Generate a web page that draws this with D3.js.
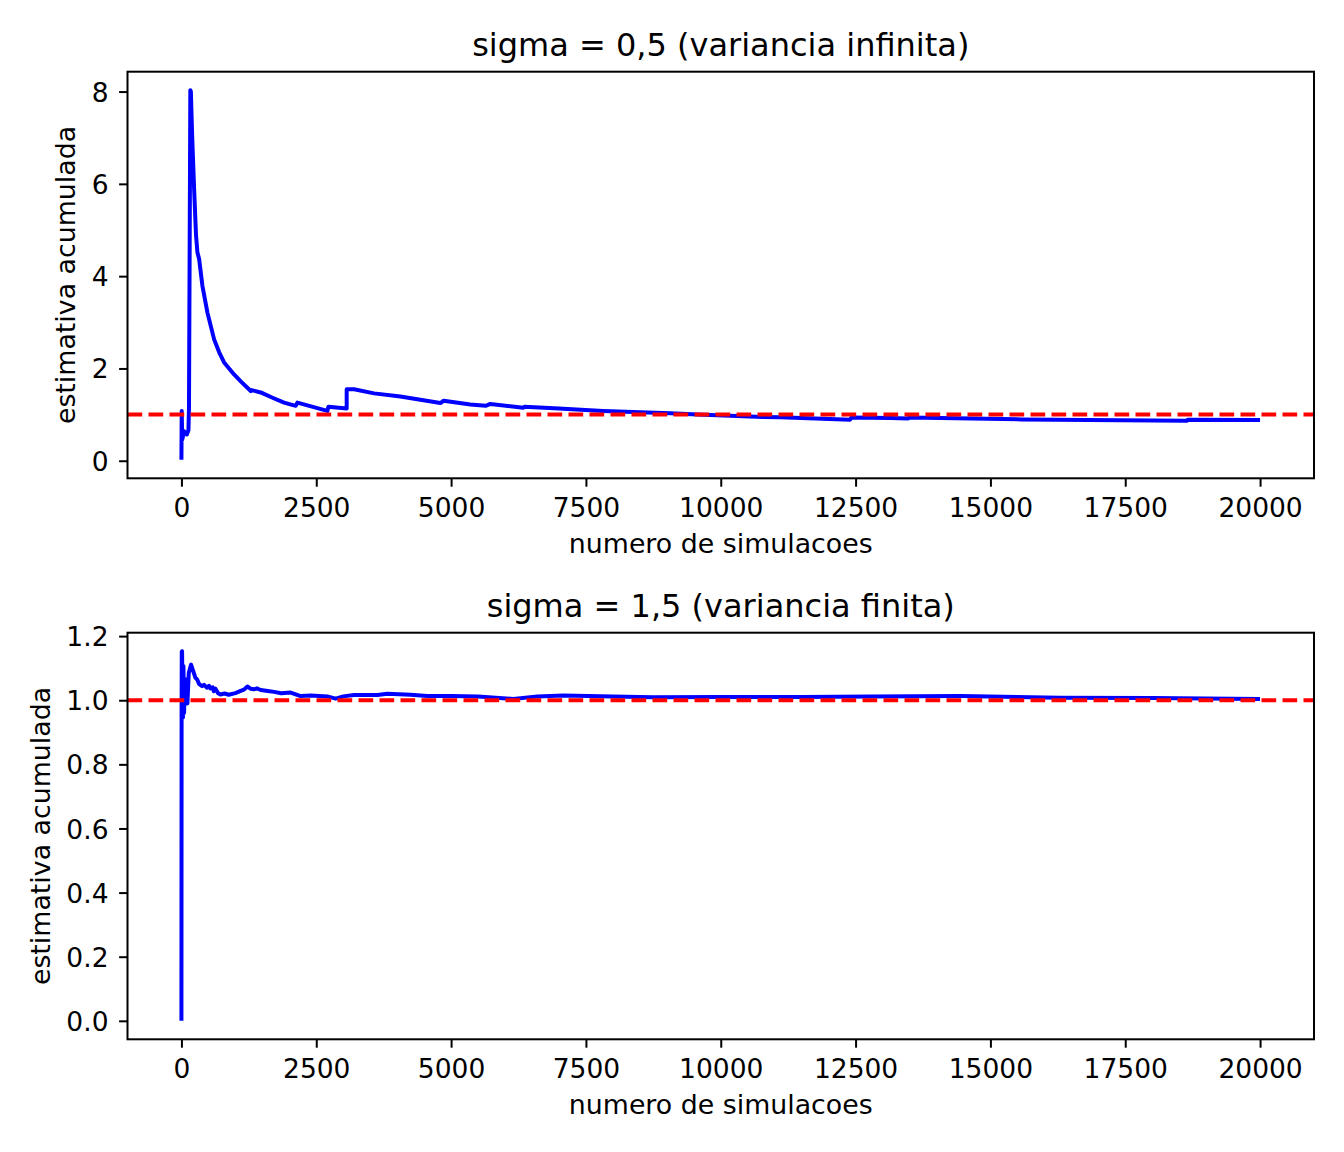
<!DOCTYPE html>
<html>
  <head>
    <meta charset="utf-8" />
    <style>
      body { margin: 0; background: #fff; }
      svg text { font-family: "DejaVu Sans", sans-serif; fill: #000; }
    </style>
  </head>
  <body>
    <script src="https://d3js.org/d3.v7.min.js"></script>
    <script>
      // DATA
      // sigma = 0,5 -> running estimate
      const topN = [0, 5, 15, 50, 100, 130, 140, 165, 175, 200, 235, 270, 296, 328, 389, 482, 606, 700, 791, 976,
        1100, 1285, 1300, 1470, 1700, 1903, 2118, 2150, 2706, 2725, 3064, 3064, 3201, 3572, 4060, 4801, 4862,
        5357, 5640, 5727, 6340, 6360, 7000, 7820, 9064, 9565, 10788, 11103, 12400, 12420, 13142, 13476, 13490,
        15590, 18640, 18660, 20000];
      const topEst = [0.02, 1.08, 0.46, 0.64, 0.57, 0.66, 1.15, 8.03, 8.0, 7.0, 5.9, 4.9, 4.52, 4.37, 3.79, 3.21,
        2.63, 2.35, 2.13, 1.87, 1.72, 1.51, 1.53, 1.48, 1.36, 1.26, 1.19, 1.26, 1.08, 1.17, 1.13, 1.55, 1.55,
        1.46, 1.39, 1.25, 1.3, 1.22, 1.19, 1.23, 1.15, 1.17, 1.13, 1.08, 1.03, 1.0, 0.95, 0.94, 0.89, 0.935,
        0.925, 0.915, 0.935, 0.895, 0.865, 0.89, 0.885];

      // sigma = 1,5 -> running estimate
      const botN = [0, 3, 6, 12, 20, 28, 37, 49, 62, 74, 80, 95, 111, 136, 179, 200, 229, 260, 290, 330, 383, 420,
        476, 510, 538, 580, 600, 630, 680, 723, 800, 877, 1000, 1099, 1160, 1223, 1280, 1347, 1400, 1470, 1600,
        1718, 1850, 2026, 2211, 2400, 2706, 2860, 3000, 3201, 3633, 3818, 4250, 4560, 5000, 5500, 6154, 6600,
        7080, 8000, 8750, 10000, 11500, 12772, 14440, 16293, 18000, 20000];
      const botEst = [0, 0.95, 1.15, 1.153, 1.02, 0.946, 1.107, 0.96, 1.06, 1.044, 1.065, 1.0, 0.99, 1.085, 1.111,
        1.1, 1.085, 1.07, 1.065, 1.05, 1.044, 1.048, 1.039, 1.045, 1.037, 1.04, 1.028, 1.036, 1.022, 1.018,
        1.021, 1.017, 1.022, 1.029, 1.033, 1.043, 1.036, 1.034, 1.037, 1.032, 1.029, 1.026, 1.022, 1.024,
        1.013, 1.015, 1.012, 1.005, 1.012, 1.016, 1.016, 1.02, 1.017, 1.013, 1.013, 1.012, 1.004, 1.012,
        1.015, 1.012, 1.009, 1.01, 1.01, 1.012, 1.013, 1.008, 1.007, 1.004];

      const trueValue = 1;
      const xTicks = [0, 2500, 5000, 7500, 10000, 12500, 15000, 17500, 20000];
      const topYTicks = [0, 2, 4, 6, 8];
      const botYTicks = [0, 0.2, 0.4, 0.6, 0.8, 1.0, 1.2];

      const W = 1344, H = 1152;
      const svg = d3.select("body").append("svg").attr("width", W).attr("height", H);

      drawPanel({
        top: 71.7, height: 406.6, n: topN, est: topEst, yTicks: topYTicks, fmt: d3.format("d"),
        title: "sigma = 0,5 (variancia infinita)", id: "a", labelX: 75
      });
      drawPanel({
        top: 632.7, height: 406.6, n: botN, est: botEst, yTicks: botYTicks, fmt: d3.format(".1f"),
        title: "sigma = 1,5 (variancia finita)", id: "b", labelX: 50
      });

      function drawPanel(cfg) {
        const left = 127.5, right = 1314;
        const x = d3.scaleLinear().domain([-1000, 21000]).range([left, right]);

        // 5% margin like matplotlib autoscale
        const ext = d3.extent(cfg.est);
        const pad = (ext[1] - ext[0]) * 0.05;
        const y = d3.scaleLinear()
          .domain([ext[0] - pad, ext[1] + pad])
          .range([cfg.top + cfg.height, cfg.top]);

        const g = svg.append("g");

        g.append("clipPath").attr("id", "clip-" + cfg.id)
          .append("rect")
          .attr("x", left).attr("y", cfg.top)
          .attr("width", right - left).attr("height", cfg.height);

        const plot = g.append("g").attr("clip-path", "url(#clip-" + cfg.id + ")");

        const pts = cfg.n.map((d, i) => [d, cfg.est[i]]);
        const line = d3.line().x((d) => x(d[0])).y((d) => y(d[1]));

        plot.append("path")
          .datum(pts)
          .attr("d", line)
          .attr("fill", "none")
          .attr("stroke", "#0000ff")
          .attr("stroke-width", 4)
          .attr("stroke-linejoin", "round");

        // reference line at the true value
        plot.append("line")
          .attr("x1", left).attr("x2", right)
          .attr("y1", y(trueValue)).attr("y2", y(trueValue))
          .attr("stroke", "#ff0000")
          .attr("stroke-width", 4)
          .attr("stroke-dasharray", "14.7,6.3");

        // axes
        const xAxis = d3.axisBottom(x).tickValues(xTicks).tickFormat(d3.format("d"))
          .tickSize(8.4).tickPadding(11.6);
        const yAxis = d3.axisLeft(y).tickValues(cfg.yTicks).tickFormat(cfg.fmt)
          .tickSize(8.4).tickPadding(10.6);

        const gx = g.append("g").attr("transform", "translate(0," + (cfg.top + cfg.height) + ")").call(xAxis);
        const gy = g.append("g").attr("transform", "translate(" + left + ",0)").call(yAxis);

        [gx, gy].forEach((a) => {
          a.select(".domain").remove();
          a.selectAll(".tick line").attr("stroke", "#000").attr("stroke-width", 2);
          a.selectAll(".tick text").style("font-size", "26.5px").attr("fill", "#000");
        });
        gy.selectAll(".tick text").attr("dy", "0.36em");

        // frame
        g.append("rect")
          .attr("x", left).attr("y", cfg.top)
          .attr("width", right - left).attr("height", cfg.height)
          .attr("fill", "none").attr("stroke", "#000").attr("stroke-width", 2);

        const cx = (left + right) / 2;
        g.append("text")
          .attr("x", cx).attr("y", cfg.top - 15.7)
          .attr("text-anchor", "middle")
          .style("font-size", "32px")
          .text(cfg.title);

        g.append("text")
          .attr("x", cx).attr("y", cfg.top + cfg.height + 75)
          .attr("text-anchor", "middle")
          .style("font-size", "26.8px")
          .text("numero de simulacoes");

        g.append("text")
          .attr("transform", "translate(" + cfg.labelX + "," + (cfg.top + cfg.height / 2) + ") rotate(-90)")
          .attr("text-anchor", "middle")
          .style("font-size", "26.8px")
          .text("estimativa acumulada");
      }
    </script>
  </body>
</html>
